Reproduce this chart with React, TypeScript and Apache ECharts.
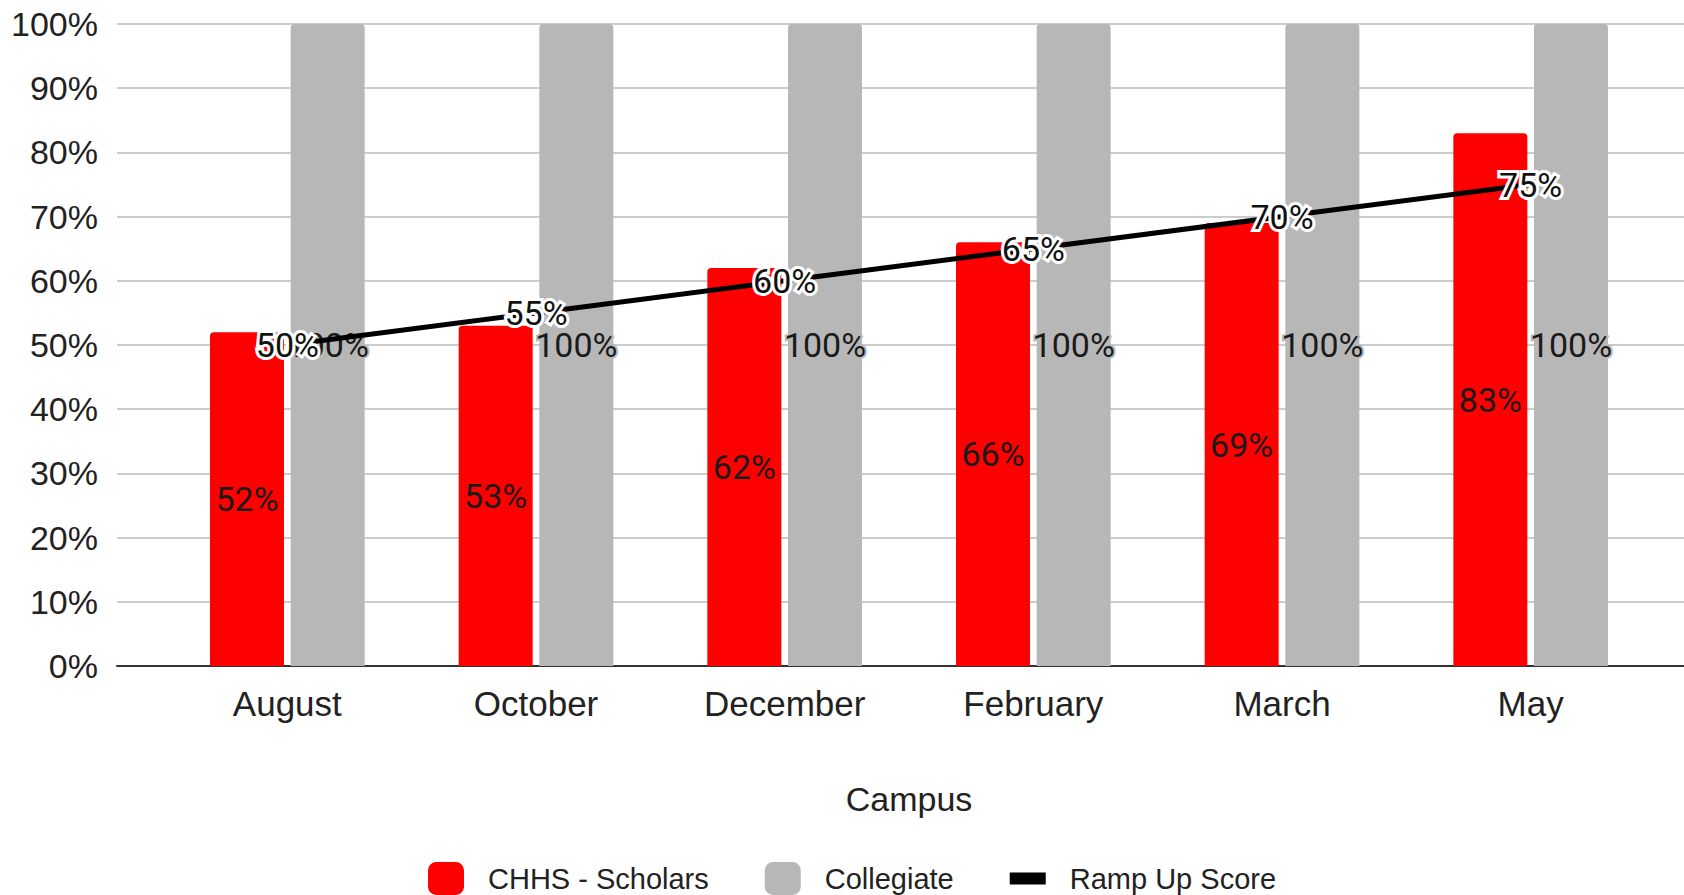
import React, { useEffect, useRef } from "react";
import * as echarts from "echarts";

const categories = ["August", "October", "December", "February", "March", "May"];
const scholars = [52, 53, 62, 66, 69, 83];
const collegiate = [100, 100, 100, 100, 100, 100];
const rampUp = [50, 55, 60, 65, 70, 75];
const yTicks = { min: 0, max: 100, interval: 10 };

const AXIS_FONT = "'Liberation Sans', Arial, sans-serif";
const LABEL_FONT = "Roboto, 'Noto Sans', sans-serif";

export default function App() {
  const ref = useRef<HTMLDivElement>(null);
  useEffect(() => {
    if (!ref.current) return;
    const chart = echarts.init(ref.current, undefined, { renderer: "svg" });
    const top = 24;
    const bottom = 229;
    chart.setOption({
      animation: false,
      backgroundColor: "#ffffff",
      grid: [
        { left: 117, right: 0, top, bottom },
        { left: 163, right: 29, top, bottom },
      ],
      legend: {
        left: 423,
        top: 857,
        itemWidth: 36,
        itemHeight: 33,
        itemGap: 56,
        textStyle: {
          fontFamily: AXIS_FONT,
          fontSize: 29,
          color: "#222222",
          padding: [0, 0, 0, 19],
        },
        data: [
          { name: "CHHS - Scholars", icon: "roundRect" },
          { name: "Collegiate", icon: "roundRect" },
          { name: "Ramp Up Score", icon: "path://M0,0 L36,0 L36,12 L0,12 Z" },
        ],
      },
      xAxis: [
        {
          type: "value",
          gridIndex: 0,
          min: 0,
          max: 1,
          axisLine: { show: true, lineStyle: { color: "#333333", width: 2 } },
          axisTick: { show: false },
          axisLabel: { show: false },
          splitLine: { show: false },
        },
        {
          type: "category",
          gridIndex: 1,
          data: categories,
          axisLine: { show: false },
          axisTick: { show: false },
          axisLabel: {
            fontFamily: AXIS_FONT,
            fontSize: 35,
            color: "#222222",
            margin: 20,
          },
          name: "Campus",
          nameLocation: "middle",
          nameGap: 116,
          nameTextStyle: { fontFamily: AXIS_FONT, fontSize: 34, color: "#222222" },
        },
      ],
      yAxis: [
        {
          type: "value",
          gridIndex: 0,
          min: yTicks.min,
          max: yTicks.max,
          interval: yTicks.interval,
          axisLine: { show: false },
          axisTick: { show: false },
          axisLabel: {
            formatter: "{value}%",
            fontFamily: AXIS_FONT,
            fontSize: 34,
            color: "#222222",
            margin: 19,
          },
          splitLine: { show: true, lineStyle: { color: "#cccccc", width: 2 } },
        },
        {
          type: "value",
          gridIndex: 1,
          min: yTicks.min,
          max: yTicks.max,
          interval: yTicks.interval,
          show: false,
          splitLine: { show: false },
        },
      ],
      series: [
        {
          name: "CHHS - Scholars",
          type: "bar",
          xAxisIndex: 1,
          yAxisIndex: 1,
          data: scholars,
          barWidth: 74,
          barGap: "9%",
          itemStyle: { color: "#ff0000", borderRadius: [4, 4, 0, 0] },
          label: {
            show: true,
            position: "inside",
            formatter: "{c}%",
            fontFamily: LABEL_FONT,
            fontSize: 34,
            color: "#1a1a1a",
          },
          z: 2,
        },
        {
          name: "Collegiate",
          type: "bar",
          xAxisIndex: 1,
          yAxisIndex: 1,
          data: collegiate,
          barWidth: 74,
          barGap: "9%",
          itemStyle: { color: "#b7b7b7", borderRadius: [4, 4, 0, 0] },
          label: {
            show: true,
            position: "inside",
            formatter: "{c}%",
            fontFamily: LABEL_FONT,
            fontSize: 34,
            color: "#1a1a1a",
            textBorderColor: "#b7b7b7",
            textBorderWidth: 4,
          },
          z: 2,
        },
        {
          name: "Ramp Up Score",
          type: "line",
          xAxisIndex: 1,
          yAxisIndex: 1,
          data: rampUp,
          symbol: "circle",
          symbolSize: 0.1,
          showSymbol: true,
          itemStyle: { color: "#000000" },
          lineStyle: { color: "#000000", width: 5 },
          label: {
            show: true,
            position: "inside",
            formatter: "{c}%",
            fontFamily: LABEL_FONT,
            fontSize: 34,
            color: "#111111",
            textBorderColor: "#ffffff",
            textBorderWidth: 6,
          },
          z: 5,
        },
      ],
    });
    return () => chart.dispose();
  }, []);
  return (
    <div
      ref={ref}
      style={{ position: "fixed", left: 0, top: 0, width: 1684, height: 895 }}
    />
  );
}
